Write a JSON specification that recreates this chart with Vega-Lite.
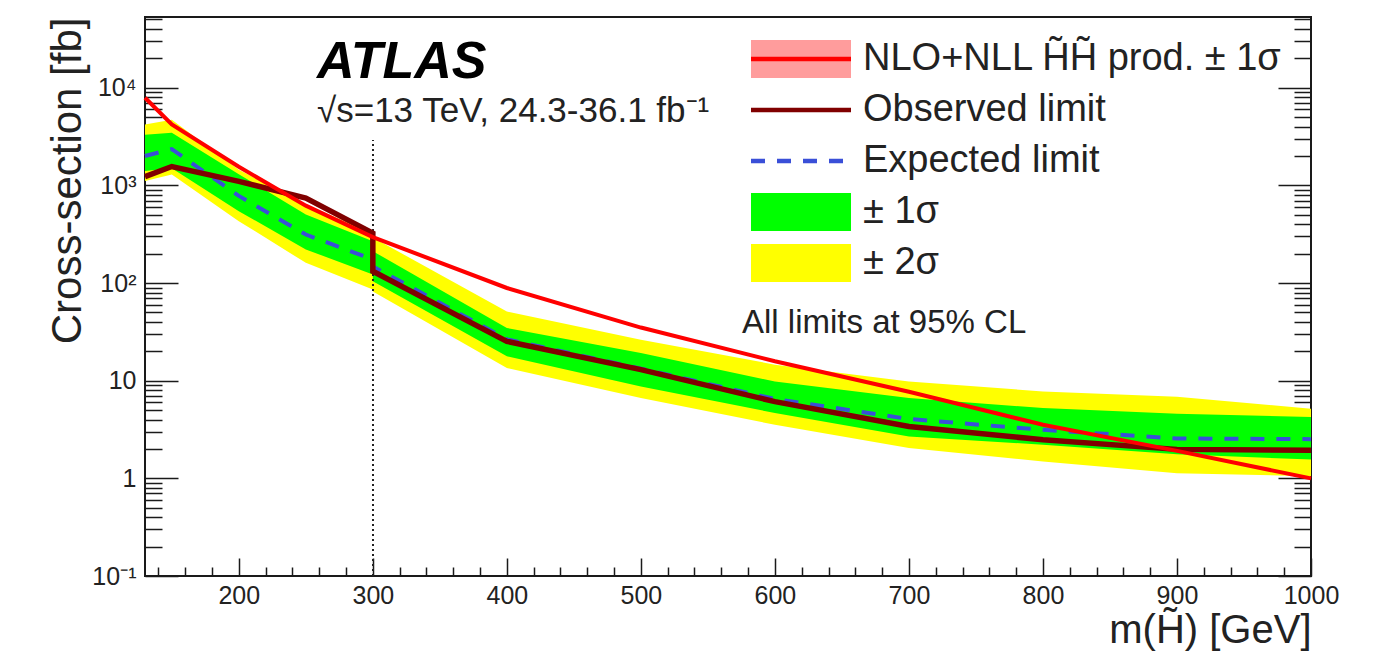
{
  "$schema": "https://vega.github.io/schema/vega-lite/v6.json",
  "autosize": {"type": "none"},
  "width": 1166,
  "height": 559,
  "padding": {"left": 145, "top": 17, "right": 71, "bottom": 79},
  "background": "white",
  "config": {
    "font": "Liberation Sans",
    "view": {"stroke": "#1a1a1a", "strokeWidth": 2},
    "axis": {"domain": false, "grid": false, "tickColor": "#1a1a1a", "tickWidth": 1.5, "labelColor": "#222", "titleColor": "#222", "titleFontWeight": "normal", "labelFont": "Liberation Sans", "titleFont": "Liberation Sans", "labelFlush": false, "labelOverlap": false}
  },
  "title": {
    "text": "ATLAS",
    "subtitle": "√s=13 TeV, 24.3-36.1 fb⁻¹",
    "anchor": "start",
    "frame": "group",
    "orient": "top",
    "offset": -113,
    "dx": 172,
    "font": "Liberation Sans",
    "fontSize": 52,
    "fontStyle": "italic",
    "fontWeight": "bold",
    "color": "#000",
    "subtitleFont": "Liberation Sans",
    "subtitleFontSize": 35,
    "subtitleColor": "#222",
    "subtitlePadding": 5
  },
  "data": {"values": [
    {"i": 0, "m": 130, "theory": 7900, "obs": 1230, "exp": 2000, "lo2": 1110, "lo1": 1400, "hi1": 3300, "hi2": 4200},
    {"i": 1, "m": 150, "theory": 4200, "obs": 1560, "exp": 2350, "lo2": 1290, "lo1": 1500, "hi1": 3450, "hi2": 4700},
    {"i": 2, "m": 200, "theory": 1550, "obs": 1100, "exp": 780, "lo2": 430, "lo1": 545, "hi1": 1300, "hi2": 1450},
    {"i": 3, "m": 250, "theory": 620, "obs": 740, "exp": 314, "lo2": 161, "lo1": 221, "hi1": 504, "hi2": 640},
    {"i": 4, "m": 300, "theory": 295, "obs": 325, "exp": 174, "lo2": 86, "lo1": 122, "hi1": 268, "hi2": 320},
    {"i": 5, "m": 300, "theory": 295, "obs": 132, "exp": 148, "lo2": 82, "lo1": 104, "hi1": 212, "hi2": 293},
    {"i": 6, "m": 400, "theory": 89, "obs": 25.3, "exp": 26.5, "lo2": 13.5, "lo1": 17.8, "hi1": 34.7, "hi2": 51},
    {"i": 7, "m": 500, "theory": 35, "obs": 13.0, "exp": 13.3, "lo2": 6.65, "lo1": 8.7, "hi1": 19.2, "hi2": 26.3},
    {"i": 8, "m": 600, "theory": 15.8, "obs": 6.1, "exp": 6.5, "lo2": 3.54, "lo1": 4.67, "hi1": 9.8, "hi2": 14.6},
    {"i": 9, "m": 700, "theory": 7.7, "obs": 3.4, "exp": 4.05, "lo2": 2.04, "lo1": 2.69, "hi1": 6.64, "hi2": 9.84},
    {"i": 10, "m": 800, "theory": 3.54, "obs": 2.48, "exp": 3.14, "lo2": 1.49, "lo1": 2.21, "hi1": 5.25, "hi2": 7.77},
    {"i": 11, "m": 900, "theory": 1.91, "obs": 1.98, "exp": 2.56, "lo2": 1.13, "lo1": 1.76, "hi1": 4.59, "hi2": 6.85},
    {"i": 12, "m": 1000, "theory": 1.0, "obs": 1.94, "exp": 2.52, "lo2": 1.05, "lo1": 1.56, "hi1": 4.24, "hi2": 5.16}
  ]},
  "resolve": {"axis": {"x": "independent", "y": "independent"}},
  "layer": [
    {
      "mark": {"type": "area", "opacity": 1},
      "encoding": {
        "x": {"field": "m", "type": "quantitative",
              "scale": {"domain": [130, 1000], "nice": false, "zero": false},
              "axis": {"orient": "bottom", "values": [200, 300, 400, 500, 600, 700, 800, 900, 1000], "format": "d", "ticks": false, "labelFontSize": 25, "labelPadding": 7, "title": "m(H̃) [GeV]", "titleFontSize": 40, "titleAnchor": "end", "titlePadding": 2}},
        "y": {"field": "lo2", "type": "quantitative",
              "scale": {"type": "log", "domain": [0.1, 53000], "nice": false},
              "axis": {"orient": "left", "values": [0.1, 1, 10, 100, 1000, 10000], "ticks": false, "labelFontSize": 25, "labelPadding": 9,
                       "labelExpr": "datum.value < 0.5 ? '10⁻¹' : datum.value < 5 ? '1' : datum.value < 50 ? '10' : datum.value < 500 ? '10²' : datum.value < 5000 ? '10³' : '10⁴'",
                       "title": "Cross-section [fb]", "titleFontSize": 42, "titleAnchor": "end", "titlePadding": 2}},
        "y2": {"field": "hi2"},
        "fill": {"datum": "± 2σ", "type": "nominal",
          "scale": {"domain": ["NLO+NLL H̃H̃ prod. ± 1σ", "Observed limit", "Expected limit", "± 1σ", "± 2σ"],
                    "range": ["#ff9c9c", "transparent", "transparent", "#00ff00", "#ffff00"]},
          "legend": {
            "orient": "none", "legendX": 597, "legendY": 23, "direction": "vertical",
            "padding": 0, "symbolSize": 400, "symbolType": "M-1,0H9V-1.9H-1V1.9H9V0", "symbolStrokeWidth": 4.5,
            "labelOffset": 83, "labelFontSize": 38, "labelFont": "Liberation Sans", "labelColor": "#222",
            "labelLimit": 800, "rowPadding": -5,
            "title": "All limits at 95% CL", "titleOrient": "bottom", "titleFontSize": 33, "titleFontWeight": "normal", "titleFont": "Liberation Sans", "titleColor": "#222", "titlePadding": 16, "titleLimit": 800
          }
        }
      }
    },
    {
      "mark": {"type": "area", "opacity": 1},
      "encoding": {
        "x": {"field": "m", "type": "quantitative",
              "axis": {"orient": "bottom", "values": [200, 300, 400, 500, 600, 700, 800, 900, 1000], "labels": false, "tickSize": -18, "title": null}},
        "y": {"field": "lo1", "type": "quantitative",
              "axis": {"orient": "left", "values": [0.1, 1, 10, 100, 1000, 10000], "labels": false, "tickSize": -33, "title": null}},
        "y2": {"field": "hi1"},
        "fill": {"datum": "± 1σ", "type": "nominal"}
      }
    },
    {
      "mark": {"type": "line", "strokeWidth": 1},
      "encoding": {
        "x": {"field": "m", "type": "quantitative", "axis": null},
        "y": {"field": "hi1", "type": "quantitative", "axis": null},
        "order": {"field": "i", "type": "quantitative"},
        "stroke": {"datum": "± 1σ", "type": "nominal"},
        "strokeDash": {"datum": "± 1σ", "type": "nominal",
          "scale": {"domain": ["NLO+NLL H̃H̃ prod. ± 1σ", "Observed limit", "Expected limit", "± 1σ", "± 2σ"],
                    "range": [[100, 1000], [100, 1000], [14, 12, 14, 12, 14, 12, 14, 1000], [1, 0], [1, 0]]},
          "legend": {
            "orient": "none", "legendX": 597, "legendY": 23, "direction": "vertical",
            "padding": 0, "symbolSize": 400, "symbolType": "M-1,0H9V-1.9H-1V1.9H9V0", "symbolStrokeWidth": 4.5,
            "labelOffset": 83, "labelFontSize": 38, "labelFont": "Liberation Sans", "labelColor": "#222",
            "labelLimit": 800, "rowPadding": -5,
            "title": "All limits at 95% CL", "titleOrient": "bottom", "titleFontSize": 33, "titleFontWeight": "normal", "titleFont": "Liberation Sans", "titleColor": "#222", "titlePadding": 16, "titleLimit": 800
          }
        }
      }
    },
    {
      "mark": {"type": "rule", "strokeDash": [2, 3], "color": "#222", "strokeWidth": 1.5},
      "encoding": {
        "x": {"datum": 300, "type": "quantitative", "axis": null},
        "y": {"datum": 0.1, "type": "quantitative", "axis": null},
        "y2": {"datum": 2900}
      }
    },
    {
      "mark": {"type": "line", "strokeDash": [14, 12], "strokeWidth": 4},
      "encoding": {
        "x": {"field": "m", "type": "quantitative",
              "axis": {"orient": "bottom", "values": [140,160,180,220,240,260,280,320,340,360,380,420,440,460,480,520,540,560,580,620,640,660,680,720,740,760,780,820,840,860,880,920,940,960,980], "labels": false, "tickSize": -9, "title": null}},
        "y": {"field": "exp", "type": "quantitative",
              "axis": {"orient": "right", "values": [0.1, 1, 10, 100, 1000, 10000], "labels": false, "tickSize": -33, "title": null}},
        "order": {"field": "i", "type": "quantitative"},
        "stroke": {"datum": "Expected limit", "type": "nominal",
          "scale": {"domain": ["NLO+NLL H̃H̃ prod. ± 1σ", "Observed limit", "Expected limit", "± 1σ", "± 2σ"],
                    "range": ["#ff0000", "#800000", "#3a4fd8", "transparent", "transparent"]},
          "legend": {
            "orient": "none", "legendX": 597, "legendY": 23, "direction": "vertical",
            "padding": 0, "symbolSize": 400, "symbolType": "M-1,0H9V-1.9H-1V1.9H9V0", "symbolStrokeWidth": 4.5,
            "labelOffset": 83, "labelFontSize": 38, "labelFont": "Liberation Sans", "labelColor": "#222",
            "labelLimit": 800, "rowPadding": -5,
            "title": "All limits at 95% CL", "titleOrient": "bottom", "titleFontSize": 33, "titleFontWeight": "normal", "titleFont": "Liberation Sans", "titleColor": "#222", "titlePadding": 16, "titleLimit": 800
          }
        }
      }
    },
    {
      "mark": {"type": "line", "strokeWidth": 5.5},
      "encoding": {
        "x": {"field": "m", "type": "quantitative", "axis": null},
        "y": {"field": "obs", "type": "quantitative",
              "axis": {"orient": "left", "values": [0.2,0.3,0.4,0.5,0.6,0.7,0.8,0.9,2,3,4,5,6,7,8,9,20,30,40,50,60,70,80,90,200,300,400,500,600,700,800,900,2000,3000,4000,5000,6000,7000,8000,9000,20000,30000,40000,50000], "labels": false, "tickSize": -17, "title": null}},
        "order": {"field": "i", "type": "quantitative"},
        "stroke": {"datum": "Observed limit", "type": "nominal"}
      }
    },
    {
      "mark": {"type": "line", "strokeWidth": 4},
      "encoding": {
        "x": {"field": "m", "type": "quantitative", "axis": null},
        "y": {"field": "theory", "type": "quantitative",
              "axis": {"orient": "right", "values": [0.2,0.3,0.4,0.5,0.6,0.7,0.8,0.9,2,3,4,5,6,7,8,9,20,30,40,50,60,70,80,90,200,300,400,500,600,700,800,900,2000,3000,4000,5000,6000,7000,8000,9000,20000,30000,40000,50000], "labels": false, "tickSize": -17, "title": null}},
        "order": {"field": "i", "type": "quantitative"},
        "stroke": {"datum": "NLO+NLL H̃H̃ prod. ± 1σ", "type": "nominal"}
      }
    }
  ]
}
